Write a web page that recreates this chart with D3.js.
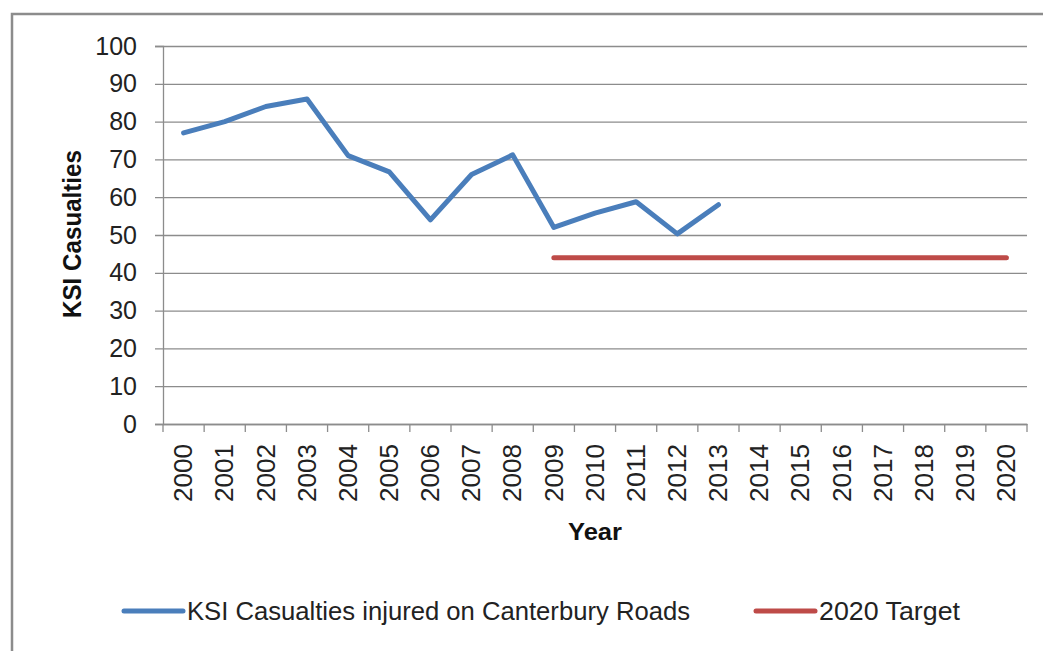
<!DOCTYPE html>
<html lang="en">
<head>
<meta charset="UTF-8">
<title>KSI Casualties</title>
<script src="https://cdn.jsdelivr.net/npm/d3@7"></script>
<style>
  body { margin: 0; background: #fff; }
</style>
</head>
<body>
<div id="container"></div>
<script>
// data
const years = ["2000","2001","2002","2003","2004","2005","2006","2007","2008","2009","2010",
               "2011","2012","2013","2014","2015","2016","2017","2018","2019","2020"];
const ksiYears = ["2000","2001","2002","2003","2004","2005","2006","2007","2008","2009","2010","2011","2012","2013"];
const ksiValues = [77, 80, 84, 86, 71, 66.7, 54, 66, 71.2, 52, 55.8, 58.8, 50.3, 58];
const targetYears = ["2009","2010","2011","2012","2013","2014","2015","2016","2017","2018","2019","2020"];
const targetValues = [44, 44, 44, 44, 44, 44, 44, 44, 44, 44, 44, 44];
const yTicks = [0, 10, 20, 30, 40, 50, 60, 70, 80, 90, 100];

const W = 1043, H = 651;
const plotLeft = 163, plotRight = 1027, plotTop = 46, plotBottom = 424;
const font = "'Liberation Sans', Arial, sans-serif";

let svg = d3.select('#container')
    .append('svg')
    .attr('width', W)
    .attr('height', H);

// outer chart border
svg.append('rect')
    .attr('x', 12).attr('y', 14)
    .attr('width', W + 10).attr('height', H + 10)
    .attr('fill', '#fff')
    .attr('stroke', '#8c8c8c')
    .attr('stroke-width', 2.5);

let x = d3.scaleBand().domain(years).range([plotLeft, plotRight]);
let y = d3.scaleLinear().domain([0, 100]).range([plotBottom, plotTop]);
let cx = d => x(d) + x.bandwidth() / 2;

// gridlines + y axis
let yAxis = svg.append('g')
    .attr('transform', 'translate(' + plotLeft + ',0)')
    .call(d3.axisLeft(y).tickValues(yTicks).tickSize(8).tickFormat(d3.format('d')));
yAxis.select('.domain').attr('stroke', '#8c8c8c').attr('stroke-width', 1.3);
yAxis.selectAll('.tick line').attr('stroke', '#8c8c8c').attr('stroke-width', 1.3)
    .attr('x1', -8).attr('x2', plotRight - plotLeft);
yAxis.selectAll('.tick text')
    .attr('x', -26)
    .attr('font-family', font)
    .attr('font-size', 25)
    .attr('fill', '#222');

// x axis, ticks between categories
let xAxis = svg.append('g')
    .attr('transform', 'translate(0,' + plotBottom + ')')
    .call(d3.axisBottom(x).tickSize(0));
xAxis.select('.domain').attr('stroke', '#8c8c8c').attr('stroke-width', 1.3);
xAxis.selectAll('.tick text')
    .attr('font-family', font)
    .attr('font-size', 25)
    .attr('fill', '#222')
    .attr('transform', 'rotate(-90)')
    .attr('text-anchor', 'end')
    .attr('x', -20)
    .attr('y', 0)
    .attr('dy', '0.35em')
    .attr('textLength', 58)
    .attr('lengthAdjust', 'spacingAndGlyphs');
svg.append('g').selectAll('line')
    .data(years.concat(['end']))
    .join('line')
    .attr('x1', (d, i) => i < years.length ? x(d) : plotRight)
    .attr('x2', (d, i) => i < years.length ? x(d) : plotRight)
    .attr('y1', plotBottom)
    .attr('y2', plotBottom + 8)
    .attr('stroke', '#8c8c8c')
    .attr('stroke-width', 1.3);

// lines
let ksiLine = d3.line()
    .x((d, i) => cx(ksiYears[i]))
    .y(d => y(d));
svg.append('path')
    .datum(ksiValues)
    .attr('d', ksiLine)
    .attr('fill', 'none')
    .attr('stroke', '#4a7ebb')
    .attr('stroke-width', 5)
    .attr('stroke-linejoin', 'round')
    .attr('stroke-linecap', 'round');

let targetLine = d3.line()
    .x((d, i) => cx(targetYears[i]))
    .y(d => y(d));
svg.append('path')
    .datum(targetValues)
    .attr('d', targetLine)
    .attr('fill', 'none')
    .attr('stroke', '#be4b48')
    .attr('stroke-width', 5)
    .attr('stroke-linecap', 'round');

// axis titles
svg.append('text')
    .attr('x', 595).attr('y', 540)
    .attr('text-anchor', 'middle')
    .attr('font-family', font)
    .attr('font-weight', 'bold')
    .attr('font-size', 24)
    .attr('fill', '#111')
    .attr('textLength', 54)
    .attr('lengthAdjust', 'spacingAndGlyphs')
    .text('Year');
svg.append('text')
    .attr('transform', 'translate(81,234) rotate(-90)')
    .attr('text-anchor', 'middle')
    .attr('font-family', font)
    .attr('font-weight', 'bold')
    .attr('font-size', 26)
    .attr('fill', '#111')
    .attr('textLength', 168)
    .attr('lengthAdjust', 'spacingAndGlyphs')
    .text('KSI Casualties');

// legend
const legend = [
  { name: 'KSI Casualties injured on Canterbury Roads', color: '#4a7ebb', x: 124, len: 503 },
  { name: '2020 Target', color: '#be4b48', x: 756, len: 141 }
];
let lg = svg.append('g').selectAll('g').data(legend).join('g')
    .attr('transform', d => 'translate(' + d.x + ',611)');
lg.append('line')
    .attr('x1', 0).attr('x2', 59)
    .attr('stroke', d => d.color)
    .attr('stroke-width', 5)
    .attr('stroke-linecap', 'round');
lg.append('text')
    .attr('x', 63)
    .attr('dy', '0.35em')
    .attr('font-family', font)
    .attr('font-size', 25)
    .attr('fill', '#222')
    .attr('textLength', d => d.len)
    .attr('lengthAdjust', 'spacingAndGlyphs')
    .text(d => d.name);
</script>
</body>
</html>
